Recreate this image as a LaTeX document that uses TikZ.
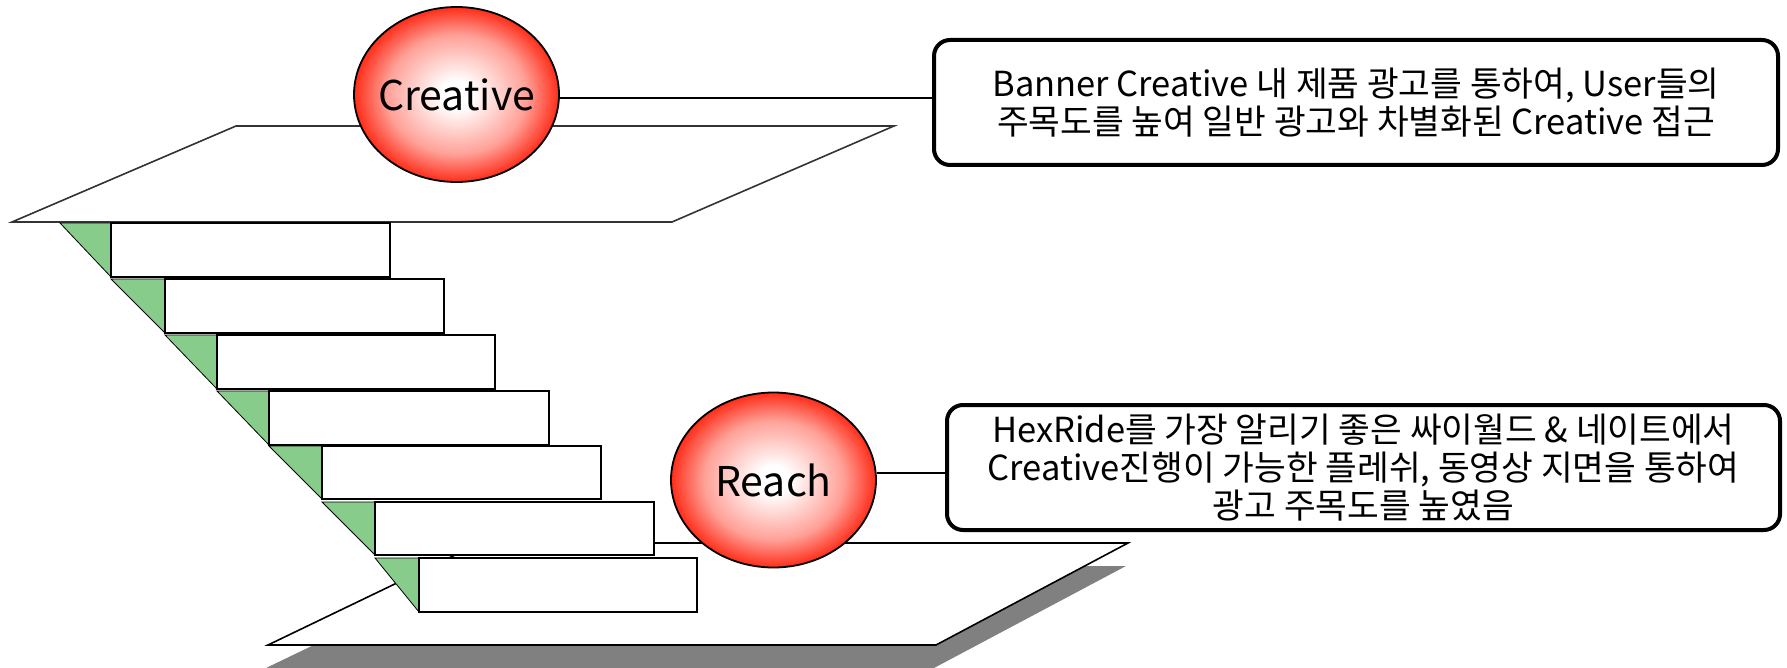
\documentclass[tikz,border=0pt]{standalone}
\usepackage{fontspec}
\setmainfont{Noto Sans CJK KR}
\usetikzlibrary{shapes.geometric}
\definecolor{ballred}{RGB}{255,45,25}
\definecolor{stairgreen}{RGB}{136,204,140}
\definecolor{shadowgray}{RGB}{128,128,128}
\pgfdeclareradialshading{ballshade}{\pgfpoint{0bp}{0bp}}{color(0bp)=(white); color(4bp)=(white); color(17bp)=(ballred!45!white); color(25bp)=(ballred); color(50bp)=(ballred)}
\begin{document}
\begin{tikzpicture}[x=1pt,y=-1pt,
  ball/.style={ellipse, draw=black, line width=1.8pt, shading=ballshade, minimum width=205pt, minimum height=175pt, inner sep=0pt},
  balltext/.style={font=\fontsize{41}{45}\selectfont, inner sep=0pt},
  infobox/.style={draw=black, line width=4pt, rounded corners=16pt, fill=white, align=center, inner sep=0pt, font=\fontsize{34.5}{38}\selectfont},
  stepbox/.style={draw=black, line width=1.2pt, fill=white},
  wedge/.style={fill=stairgreen, draw=black, line width=0.8pt},
  plate/.style={draw=black!80, line width=1.6pt, fill=white},
  link/.style={draw=black, line width=2pt}]
\useasboundingbox (0,0) rectangle (1787,668);
\begin{scope}
\clip (0,0) rectangle (1787,668);
% top plate
\draw[plate] (236,126) -- (894,126) -- (672,222) -- (12,222) -- cycle;
% bottom plate with shadow
\fill[shadowgray] (478,566) -- (1126,566) -- (934,668) -- (266,668) -- cycle;
\draw[plate, draw=black] (480,543) -- (1128,543) -- (936,645) -- (268,645) -- cycle;
% green wedges
\foreach \xa/\xb/\ya/\yb in {60/111/223/277, 111/165/279/333, 165/217/335/389, 217/269/391/445, 269/322/446/499, 322/375/502/555, 375/419/558/612}
  \draw[wedge] (\xa,\ya) -- (\xb,\ya) -- (\xb,\yb) -- cycle;
% steps
\foreach \xa/\ya/\xb/\yb in {111/223/390/277, 165/279/444/333, 217/335/495/389, 269/391/549/445, 322/446/601/499, 375/502/654/555, 419/558/697/612}
  \draw[stepbox] (\xa,\ya) rectangle (\xb,\yb);
\end{scope}
% balls and boxes
\node[ball, label={[balltext]center:Creative}] (cre) at (456.5,94.5) {};
\node[ball, label={[balltext]center:Reach}] (rea) at (773.5,480) {};
\node[infobox, minimum width=844pt, minimum height=125pt] (crebox) at (1356,102.5)
  {Banner Creative 내 제품 광고를 통하여, User들의\\주목도를 높여 일반 광고와 차별화된 Creative 접근};
\node[infobox, minimum width=833pt, minimum height=125pt] (reabox) at (1363.5,467.5)
  {HexRide를 가장 알리기 좋은 싸이월드 \& 네이트에서\\Creative진행이 가능한 플레쉬, 동영상 지면을 통하여\\광고 주목도를 높였음};
\draw[link] (cre.-2.2) -- (cre.-2.2 -| crebox.west);
\draw[link] (rea.4.5) -- (rea.4.5 -| reabox.west);
\end{tikzpicture}
\end{document}
